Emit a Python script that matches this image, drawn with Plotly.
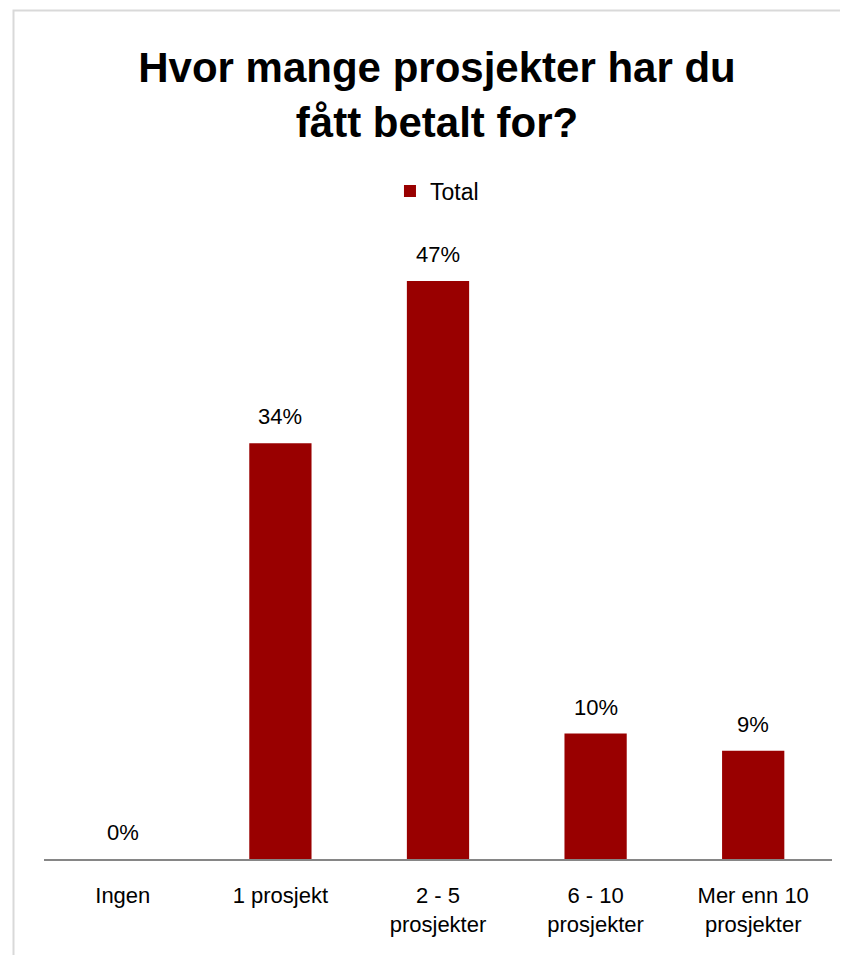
import plotly.graph_objects as go

categories = ["Ingen", "1 prosjekt", "2 - 5<br>prosjekter", "6 - 10<br>prosjekter", "Mer enn 10<br>prosjekter"]
values = [0.0, 0.338, 0.470, 0.102, 0.088]
labels = ["0%", "34%", "47%", "10%", "9%"]

RED = "#990000"
FONT = "Liberation Sans"

fig = go.Figure()
fig.add_trace(go.Bar(
    x=categories, y=values, name="Total",
    marker=dict(color=RED, line=dict(width=0)),
    width=0.395, showlegend=True,
))

for c, v, t in zip(categories, values, labels):
    fig.add_annotation(x=c, y=v, text=t, showarrow=False, yanchor="bottom",
                       yshift=12, font=dict(family=FONT, size=22, color="#000000"))

fig.add_shape(type="rect", xref="paper", yref="paper",
              x0=-0.0387, x1=1.2, y0=-0.4, y1=1.3797,
              line=dict(color="#d9d9d9", width=2), fillcolor="rgba(0,0,0,0)", layer="below")

fig.update_layout(
    width=848, height=955,
    margin=dict(l=36, r=24, t=236, b=104),
    paper_bgcolor="white", plot_bgcolor="white",
    title=dict(text="<b>Hvor mange prosjekter har du<br>fått betalt for?</b>",
               x=0.5059, xanchor="center", y=0.922, yanchor="middle",
               font=dict(family=FONT, size=42, color="#000000")),
    legend=dict(orientation="h", x=0.4987, xanchor="center", y=1.086, yanchor="middle",
                font=dict(family=FONT, size=23, color="#000000"), itemwidth=30),
    bargap=0.6,
    xaxis=dict(showline=True, linecolor="#868686", linewidth=2, ticks="",
               tickfont=dict(family=FONT, size=22, color="#000000"),
               ticklabelstandoff=16, showgrid=False, zeroline=False),
    yaxis=dict(range=[0, 0.5], visible=False, showgrid=False, zeroline=False),
)

fig.write_html("out.html")
